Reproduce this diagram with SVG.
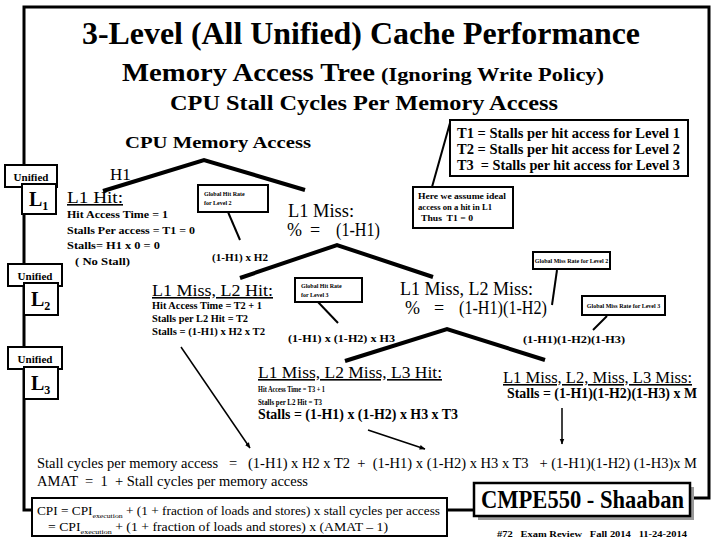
<svg xmlns="http://www.w3.org/2000/svg" width="720" height="540" viewBox="0 0 720 540" font-family="'Liberation Serif', 'DejaVu Serif', serif">
<defs>
<style>
text{font-family:"Liberation Serif","DejaVu Serif","Noto Serif",serif;fill:#000}
.b{font-weight:bold}
.box{fill:#fff;stroke:#000;stroke-width:2}
.frame{fill:none;stroke:#000;stroke-width:3}
.tree{fill:none;stroke:#000;stroke-width:4;stroke-linecap:butt}
.thin{fill:none;stroke:#000;stroke-width:2}
.arr{fill:none;stroke:#000;stroke-width:1.5;marker-end:url(#ah)}
.u{text-decoration:underline}
</style>
<marker id="ah" viewBox="0 0 10 10" refX="9" refY="5" markerWidth="6" markerHeight="6" orient="auto" markerUnits="userSpaceOnUse">
<path d="M0,1 L10,5 L0,9 Z" fill="#000"/>
</marker>
</defs>
<rect width="720" height="540" fill="#fff"/>

<g id="frame">
<path class="frame" d="M32,510 H24 V7 H709 V498 H690"/>
<path class="frame" d="M447,510 H474"/>
</g>

<g id="titles">
<text x="82" y="44" class="b" font-size="31" textLength="558" lengthAdjust="spacingAndGlyphs">3-Level (All Unified) Cache Performance</text>
<text x="122" y="81" class="b" font-size="25" textLength="253" lengthAdjust="spacingAndGlyphs">Memory Access Tree</text>
<text x="381" y="81" class="b" font-size="19" textLength="223" lengthAdjust="spacingAndGlyphs">(Ignoring Write Policy)</text>
<text x="170" y="110" class="b" font-size="22" textLength="388" lengthAdjust="spacingAndGlyphs">CPU  Stall Cycles Per Memory Access</text>
<text x="125" y="148" class="b" font-size="17" textLength="186" lengthAdjust="spacingAndGlyphs">CPU Memory  Access</text>
</g>

<g id="connectors">
<polyline class="tree" points="103,191 204,160 305,190"/>
<polyline class="tree" points="240,278 337,245 433,277"/>
<polyline class="tree" points="345,361 447,329 545,360"/>
<line class="thin" x1="228" y1="212" x2="240" y2="240"/>
<line class="thin" x1="318" y1="302" x2="338" y2="323"/>
<line class="thin" x1="557" y1="270" x2="552" y2="305"/>
<line class="thin" x1="607" y1="316" x2="593" y2="330"/>
<line class="thin" x1="432" y1="187" x2="450" y2="123"/>
<line class="arr" x1="181" y1="347" x2="250" y2="448"/>
<line class="arr" x1="368" y1="430" x2="425" y2="449"/>
<line class="arr" x1="562" y1="408" x2="562" y2="444"/>
</g>

<g id="level1">
<rect class="box" x="5" y="165" width="52" height="22"/>
<text x="31" y="181" class="b" font-size="11" text-anchor="middle">Unified</text>
<rect class="box" x="22" y="184" width="34" height="30"/>
<text x="29" y="206" class="b" font-size="20">L<tspan font-size="12" dy="4">1</tspan></text>
</g>
<g id="level2">
<rect class="box" x="8" y="264" width="54" height="22"/>
<text x="35" y="280" class="b" font-size="11" text-anchor="middle">Unified</text>
<rect class="box" x="24" y="283" width="34" height="32"/>
<text x="31" y="306" class="b" font-size="20">L<tspan font-size="12" dy="4">2</tspan></text>
</g>
<g id="level3">
<rect class="box" x="8" y="347" width="54" height="22"/>
<text x="35" y="363" class="b" font-size="11" text-anchor="middle">Unified</text>
<rect class="box" x="24" y="367" width="34" height="32"/>
<text x="31" y="390" class="b" font-size="20">L<tspan font-size="12" dy="4">3</tspan></text>
</g>

<g id="tbox">
<rect class="box" x="450" y="120" width="238" height="56"/>
<text x="457" y="138" class="b" font-size="14" textLength="223" lengthAdjust="spacingAndGlyphs">T1 = Stalls per hit access for Level 1</text>
<text x="457" y="154" class="b" font-size="14" textLength="223" lengthAdjust="spacingAndGlyphs">T2 = Stalls per hit access for Level 2</text>
<text x="457" y="170" class="b" font-size="14" textLength="223" lengthAdjust="spacingAndGlyphs" xml:space="preserve">T3  = Stalls per hit access for Level 3</text>
</g>

<g id="assume">
<rect class="box" x="413" y="187" width="100" height="41"/>
<text x="418" y="199" class="b" font-size="8" textLength="88" lengthAdjust="spacingAndGlyphs">Here we assume ideal</text>
<text x="418" y="210" class="b" font-size="8" textLength="74" lengthAdjust="spacingAndGlyphs">access on a hit in L1</text>
<text x="421" y="221" class="b" font-size="8" textLength="52" lengthAdjust="spacingAndGlyphs" xml:space="preserve">Thus  T1 = 0</text>
</g>

<g id="h1label">
<text x="110" y="180" font-size="17">H1</text>
</g>

<g id="l1hit">
<text x="67" y="203" font-size="16" class="u" textLength="56" lengthAdjust="spacingAndGlyphs">L1  Hit:</text>
<text x="67" y="218" class="b" font-size="11" textLength="101" lengthAdjust="spacingAndGlyphs">Hit Access Time = 1</text>
<text x="67" y="234" class="b" font-size="11" textLength="128" lengthAdjust="spacingAndGlyphs">Stalls Per access = T1 = 0</text>
<text x="67" y="249" class="b" font-size="11" textLength="93" lengthAdjust="spacingAndGlyphs">Stalls= H1 x 0 = 0</text>
<text x="75" y="265" class="b" font-size="11" textLength="55" lengthAdjust="spacingAndGlyphs">( No Stall)</text>
</g>

<g id="ghr2">
<rect class="box" x="198" y="185" width="70" height="27"/>
<text x="204" y="196" class="b" font-size="6">Global Hit Rate</text>
<text x="204" y="205" class="b" font-size="6">for Level 2</text>
<text x="212" y="261" class="b" font-size="11" textLength="56" lengthAdjust="spacingAndGlyphs">(1-H1) x H2</text>
</g>

<g id="l1miss">
<text x="288" y="217" font-size="18" textLength="66" lengthAdjust="spacingAndGlyphs">L1  Miss:</text>
<text x="287" y="236" font-size="18">%</text>
<text x="310" y="236" font-size="18">=</text>
<text x="336" y="236" font-size="18" textLength="44" lengthAdjust="spacingAndGlyphs">(1-H1)</text>
</g>

<g id="l2hit">
<text x="152" y="296" font-size="16" class="u" textLength="121" lengthAdjust="spacingAndGlyphs">L1  Miss, L2  Hit:</text>
<text x="152" y="309" class="b" font-size="10" textLength="110" lengthAdjust="spacingAndGlyphs">Hit Access Time = T2 + 1</text>
<text x="152" y="322" class="b" font-size="10" textLength="96" lengthAdjust="spacingAndGlyphs">Stalls per L2 Hit = T2</text>
<text x="152" y="335" class="b" font-size="10" textLength="113" lengthAdjust="spacingAndGlyphs">Stalls = (1-H1) x H2 x T2</text>
</g>

<g id="ghr3">
<rect class="box" x="295" y="278" width="67" height="24"/>
<text x="301" y="288" class="b" font-size="6">Global Hit Rate</text>
<text x="301" y="297" class="b" font-size="6">for Level 3</text>
<text x="288" y="342" class="b" font-size="11" textLength="107" lengthAdjust="spacingAndGlyphs">(1-H1) x (1-H2) x H3</text>
</g>

<g id="l2miss">
<text x="400" y="295" font-size="18" textLength="133" lengthAdjust="spacingAndGlyphs">L1  Miss, L2   Miss:</text>
<text x="405" y="314" font-size="18">%</text>
<text x="434" y="314" font-size="18">=</text>
<text x="459" y="314" font-size="18" textLength="88" lengthAdjust="spacingAndGlyphs">(1-H1)(1-H2)</text>
</g>

<g id="gmr2">
<rect class="box" x="533" y="252" width="77" height="17"/>
<text x="571.5" y="263" class="b" font-size="6" text-anchor="middle">Global Miss Rate for Level 2</text>
</g>

<g id="gmr3">
<rect class="box" x="582" y="296" width="83" height="19"/>
<text x="623.5" y="308" class="b" font-size="6" text-anchor="middle">Global Miss Rate for Level 3</text>
<text x="523" y="343" class="b" font-size="11" textLength="102" lengthAdjust="spacingAndGlyphs">(1-H1)(1-H2)(1-H3)</text>
</g>

<g id="l3hit">
<text x="258" y="378" font-size="16" class="u" textLength="184" lengthAdjust="spacingAndGlyphs">L1  Miss, L2 Miss, L3  Hit:</text>
<text x="258" y="392" class="b" font-size="9" textLength="67" lengthAdjust="spacingAndGlyphs">Hit Access Time = T3 + 1</text>
<text x="258" y="405" class="b" font-size="9" textLength="64" lengthAdjust="spacingAndGlyphs">Stalls per L2 Hit = T3</text>
<text x="258" y="419" class="b" font-size="14" textLength="200" lengthAdjust="spacingAndGlyphs">Stalls = (1-H1) x (1-H2) x H3 x  T3</text>
</g>

<g id="l3miss">
<text x="503" y="383" font-size="16" class="u" textLength="189" lengthAdjust="spacingAndGlyphs">L1  Miss, L2, Miss, L3   Miss:</text>
<text x="507" y="398" class="b" font-size="14" textLength="190" lengthAdjust="spacingAndGlyphs">Stalls = (1-H1)(1-H2)(1-H3) x M</text>
</g>

<g id="equations">
<text x="37" y="468" font-size="14" textLength="660" lengthAdjust="spacingAndGlyphs" xml:space="preserve">Stall cycles per memory access   =   (1-H1) x H2 x T2  +  (1-H1) x (1-H2) x H3 x T3   + (1-H1)(1-H2) (1-H3)x M</text>
<text x="37" y="486" font-size="14" textLength="271" lengthAdjust="spacingAndGlyphs" xml:space="preserve">AMAT  =  1  + Stall cycles per memory access</text>
</g>

<g id="cpibox">
<rect class="box" x="32" y="498" width="415" height="38"/>
<text x="37" y="515" font-size="12" textLength="403" lengthAdjust="spacingAndGlyphs">CPI = CPI<tspan font-size="7" dy="3">execution</tspan><tspan dy="-3"> + (1 + fraction of loads and stores) x stall cycles per access</tspan></text>
<text x="48" y="531" font-size="12" textLength="340" lengthAdjust="spacingAndGlyphs">= CPI<tspan font-size="7" dy="3">execution</tspan><tspan dy="-3"> + (1 + fraction of loads and stores) x (AMAT – 1)</tspan></text>
</g>

<g id="footer">
<rect x="478" y="487" width="216" height="33" fill="#999"/>
<rect x="474" y="483" width="216" height="33" fill="#fff" stroke="#000" stroke-width="2.5"/>
<text x="481" y="508" class="b" font-size="25" textLength="203" lengthAdjust="spacingAndGlyphs">CMPE550 - Shaaban</text>
<text x="497" y="537" class="b" font-size="8" textLength="190" lengthAdjust="spacingAndGlyphs" xml:space="preserve">#72   Exam Review   Fall 2014   11-24-2014</text>
</g>
</svg>
